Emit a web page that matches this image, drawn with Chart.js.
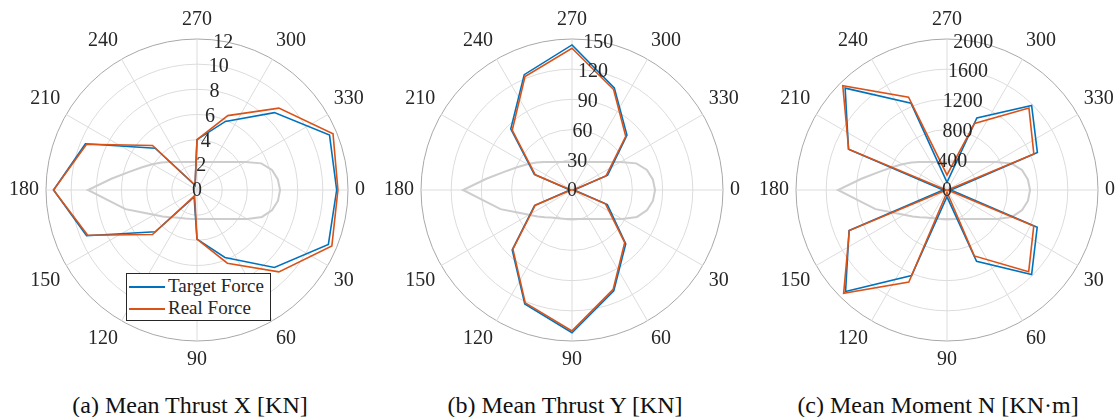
<!DOCTYPE html>
<html>
<head>
<meta charset="utf-8">
<script src="https://cdn.jsdelivr.net/npm/chart.js@4.4.1/dist/chart.umd.min.js"></script>
<style>
  body { margin: 0; width: 1119px; height: 417px; background: #fff; position: relative; overflow: hidden;
         font-family: "Liberation Serif", "Times New Roman", serif; color: #262626; }
  .panel { position: absolute; top: 8px; }
  .caption { position: absolute; top: 391px; width: 400px; text-align: center; font-size: 24px; line-height: 28px; color: #111; }
  .legend { position: absolute; left: 126px; top: 273px; width: 143px; height: 46px; border: 1px solid #262626; background: #fff; }
  .legend .item { position: absolute; left: 41px; font-size: 19px; line-height: 22px; white-space: nowrap; }
  .legend .swatch { position: absolute; left: 2px; width: 36px; height: 1.6px; }
</style>
</head>
<body>
<canvas id="polarX" class="panel" width="378" height="364" style="left:-2px"></canvas>
<canvas id="polarY" class="panel" width="378" height="364" style="left:373px"></canvas>
<canvas id="polarN" class="panel" width="378" height="364" style="left:748px"></canvas>

<div class="legend">
  <span class="swatch" style="top:12px;background:#0072BD"></span>
  <div class="item" style="top:1px">Target Force</div>
  <span class="swatch" style="top:34px;background:#D95319"></span>
  <div class="item" style="top:23px">Real Force</div>
</div>

<div class="caption" style="left:-10px">(a) Mean Thrust X [KN]</div>
<div class="caption" style="left:365px">(b) Mean Thrust Y [KN]</div>
<div class="caption" style="left:738px">(c) Mean Moment N [KN·m]</div>

<script>
// heading of each test run, degrees (0 = right, clockwise)
const thetaDeg = [0, 22.5, 45, 67.5, 90, 112.5, 135, 157.5, 180, 202.5, 225, 247.5, 270, 292.5, 315, 337.5];

// mean thrust X [KN]
const thrustXTarget = [11.1, 11.3, 8.7, 5.8, 3.9, 0.6, 4.7, 9.5, 11.4, 9.6, 4.7, 0.4, 4.0, 5.9, 8.7, 11.4];
const thrustXReal   = [11.2, 11.6, 9.2, 6.3, 3.9, 0.5, 5.0, 9.4, 11.4, 9.5, 5.0, 0.4, 4.0, 6.4, 9.2, 11.7];

// mean thrust Y [KN]
const thrustYTarget = [2, 38, 75.5, 108.4, 141.8, 122.6, 84, 40.3, 2, 40.5, 86, 124, 144.1, 109.8, 77.2, 38.3];
const thrustYReal   = [1, 36, 74, 106.8, 140, 121.3, 83, 39.5, 1, 39.5, 84, 122, 140.8, 108, 75.5, 36.6];

// mean moment N [KN·m]
const momentNTarget = [50, 1293, 1585, 1023, 90, 1226, 1900, 1404, 50, 1412, 1908, 1243, 100, 1034, 1585, 1296];
const momentNReal   = [10, 1244, 1530, 945, 30, 1320, 1936, 1400, 10, 1410, 1952, 1331, 200, 954, 1535, 1245];

// angular tick labels and radial axis limits per panel
const angleTicks = [0, 30, 60, 90, 120, 150, 180, 210, 240, 270, 300, 330];
const rMaxX = 12, rStepX = 2;
const rMaxY = 150, rStepY = 30;
const rMaxN = 2000, rStepN = 400;

// ship outline, every 7.5 deg from 0, as a fraction of the outer ring
const hullShape = [
  0.550, 0.541, 0.515, 0.466, 0.384, 0.315, 0.272, 0.242, 0.222, 0.208, 0.199, 0.193,
  0.192, 0.193, 0.197, 0.204, 0.214, 0.229, 0.256, 0.288, 0.329, 0.390, 0.490, 0.579,
  0.722, 0.572, 0.465, 0.394, 0.342, 0.298, 0.262, 0.234, 0.214, 0.201, 0.192, 0.187,
  0.185, 0.187, 0.192, 0.201, 0.214, 0.234, 0.262, 0.305, 0.371, 0.461, 0.514, 0.540
];

const step = 7.5;
const nTheta = 360 / step;
const thetaGrid = Array.from({length: nTheta}, (_, i) => i * step);

// spread the 22.5 deg samples on the 7.5 deg angular grid, gaps get spanned
function onGrid(values) {
  const out = new Array(nTheta).fill(null);
  thetaDeg.forEach((t, k) => { out[Math.round(t / step)] = values[k]; });
  return out;
}

const GRID = '#dcdcdc';
const OUTER = '#a8a8a8';
const TXT = '#262626';
const FONT = '"Liberation Serif", "Times New Roman", serif';

// radial tick labels drawn slightly off the 270 spoke, like matlab does
const rTickLabels = {
  id: 'rTickLabels',
  afterDatasetsDraw(chart) {
    const s = chart.scales.r;
    const ctx = chart.ctx;
    const a = 10 * Math.PI / 180;
    ctx.save();
    ctx.font = '20px ' + FONT;
    ctx.fillStyle = TXT;
    ctx.textAlign = 'center';
    ctx.textBaseline = 'middle';
    s.ticks.forEach(t => {
      const d = s.getDistanceFromCenterForValue(t.value);
      ctx.fillText(String(t.value), s.xCenter + d * Math.sin(a), s.yCenter - d * Math.cos(a) + 1);
    });
    ctx.restore();
  }
};

function makePolar(id, rMax, rStep, target, real) {
  return new Chart(document.getElementById(id), {
    type: 'radar',
    data: {
      labels: thetaGrid,
      datasets: [
        { label: 'Real Force', data: onGrid(real), borderColor: '#D95319', borderWidth: 1.6, order: 0 },
        { label: 'Target Force', data: onGrid(target), borderColor: '#0072BD', borderWidth: 1.6, order: 1 },
        { label: 'hull', data: hullShape.map(f => f * rMax), borderColor: '#cdcdcd', borderWidth: 2, order: 2 }
      ]
    },
    options: {
      responsive: false,
      animation: false,
      events: [],
      plugins: { legend: { display: false }, tooltip: { enabled: false } },
      elements: {
        point: { radius: 0 },
        line: { tension: 0, fill: false, spanGaps: true }
      },
      datasets: { radar: { spanGaps: true } },
      scales: {
        r: {
          min: 0,
          max: rMax,
          startAngle: 90,
          ticks: { display: false, stepSize: rStep },
          grid: {
            circular: true,
            lineWidth: 1,
            color: c => (c.tick && c.tick.value === rMax) ? OUTER : GRID
          },
          angleLines: {
            lineWidth: 1,
            color: c => angleTicks.includes(thetaGrid[c.index]) ? GRID : 'rgba(0,0,0,0)'
          },
          pointLabels: {
            padding: 7,
            color: TXT,
            font: { family: FONT, size: 20, lineHeight: 1.2 },
            callback: v => angleTicks.includes(v) ? String(v) : ''
          }
        }
      }
    },
    plugins: [rTickLabels]
  });
}

makePolar('polarX', rMaxX, rStepX, thrustXTarget, thrustXReal);
makePolar('polarY', rMaxY, rStepY, thrustYTarget, thrustYReal);
makePolar('polarN', rMaxN, rStepN, momentNTarget, momentNReal);
</script>
</body>
</html>
